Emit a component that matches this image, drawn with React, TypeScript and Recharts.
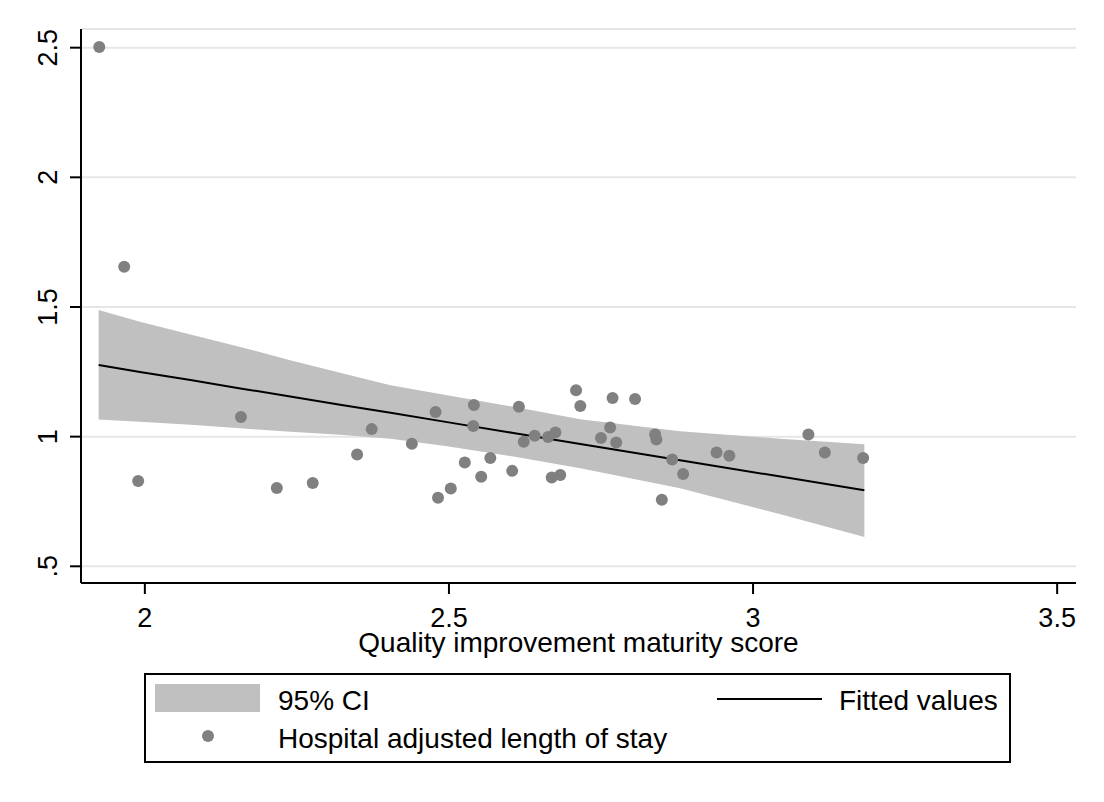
import { ComposedChart, Area, Line, Scatter, XAxis, YAxis, CartesianGrid, Legend } from 'recharts'

// Hospital points (QI maturity score, adjusted LOS)
const scoreX = [
  1.925, 1.966, 1.989, 2.158, 2.217, 2.276, 2.349, 2.373,
  2.439, 2.478, 2.482, 2.503, 2.526, 2.541, 2.54, 2.553, 2.568, 2.604,
  2.615, 2.623, 2.641, 2.663, 2.675, 2.669, 2.683, 2.709, 2.716, 2.75,
  2.765, 2.775, 2.769, 2.806, 2.839, 2.841, 2.867, 2.885, 2.85,
  2.94, 2.961, 3.091, 3.118, 3.181,
]
const losY = [
  2.503, 1.655, 0.829, 1.076, 0.802, 0.821, 0.931, 1.029,
  0.973, 1.095, 0.764, 0.8, 0.9, 1.122, 1.041, 0.845, 0.918, 0.868,
  1.115, 0.98, 1.003, 0.999, 1.016, 0.842, 0.852, 1.179, 1.118, 0.995,
  1.035, 0.977, 1.149, 1.145, 1.008, 0.989, 0.912, 0.856, 0.757,
  0.939, 0.926, 1.008, 0.939, 0.918,
]

// fitted line and 95% CI band, sampled along x
const fitX = [1.924, 1.992, 2.075, 2.157, 2.239, 2.321, 2.404, 2.497, 2.606, 2.716, 2.88, 3.045, 3.183]
const fitY = [1.276, 1.249, 1.218, 1.186, 1.155, 1.123, 1.092, 1.056, 1.014, 0.972, 0.909, 0.846, 0.793]
const ciLow = [1.066, 1.057, 1.046, 1.032, 1.019, 1.007, 0.992, 0.963, 0.923, 0.878, 0.801, 0.701, 0.613]
const ciHigh = [1.488, 1.443, 1.394, 1.346, 1.295, 1.246, 1.198, 1.16, 1.115, 1.067, 1.021, 0.992, 0.971]

const xTicks = [2, 2.5, 3, 3.5]
const xTickLabels = ['2', '2.5', '3', '3.5']
const yTicks = [0.5, 1, 1.5, 2, 2.5]
const yTickLabels = ['.5', '1', '1.5', '2', '2.5']

const seriesNames = ['95% CI', 'Fitted values', 'Hospital adjusted length of stay']

const font = '"Liberation Sans", Arial, sans-serif'
const ciColor = '#c0c0c0'
const dotColor = '#808080'

const fitRows = fitX.map((x, i) => ({ x, fit: fitY[i], band: [ciLow[i], ciHigh[i]] }))
const points = scoreX.map((x, i) => ({ x, y: losY[i] }))

function YTick({ x, y, payload }: any) {
  const i = yTicks.indexOf(payload.value)
  return (
    <text x={x} y={y} transform={`rotate(-90 ${x} ${y})`} textAnchor="middle"
      fontSize={27} fontFamily={font} fill="#000">
      {yTickLabels[i]}
    </text>
  )
}

function StataLegend() {
  return (
    <svg width={867} height={90} style={{ display: 'block' }}>
      <rect x={1} y={1} width={865} height={88} fill="#fff" stroke="#000" strokeWidth={2} />
      <rect x={11} y={11} width={105} height={28} fill={ciColor} />
      <line x1={573} x2={678} y1={26} y2={26} stroke="#000" strokeWidth={2} />
      <circle cx={64} cy={63} r={6} fill={dotColor} />
      <g fontSize={28} fontFamily={font} fill="#000">
        <text x={134} y={37}>{seriesNames[0]}</text>
        <text x={695} y={37}>{seriesNames[1]}</text>
        <text x={134} y={75}>{seriesNames[2]}</text>
      </g>
    </svg>
  )
}

export default function App() {
  return (
    <div style={{ position: 'absolute', left: 0, top: 0, width: 1104, height: 802, background: '#fff' }}>
      <ComposedChart width={1104} height={802} data={fitRows}
        margin={{ top: 29, right: 28, left: 0, bottom: 139 }}>
        <CartesianGrid horizontal vertical={false} stroke="#e6e6e6" strokeWidth={2} />
        <XAxis dataKey="x" type="number" domain={[1.895, 3.531]} ticks={xTicks}
          tickFormatter={(v: number) => xTickLabels[xTicks.indexOf(v)]}
          allowDataOverflow height={80} tickSize={11} tickMargin={14}
          stroke="#000" strokeWidth={2}
          tick={{ fontSize: 27, fontFamily: font, fill: '#000' }}
          label={{ value: 'Quality improvement maturity score', position: 'insideBottom', offset: 11,
            style: { fontSize: 28, fontFamily: font, fill: '#000' } }} />
        <YAxis type="number" domain={[0.4356, 2.572]} ticks={yTicks} allowDataOverflow
          width={81} tickSize={11} tickMargin={13} stroke="#000" strokeWidth={2}
          tick={<YTick />} />
        <Area dataKey="band" type="linear" stroke="none" fill={ciColor} fillOpacity={1}
          isAnimationActive={false} activeDot={false} />
        <Line dataKey="fit" type="linear" stroke="#000" strokeWidth={2} dot={false}
          activeDot={false} isAnimationActive={false} />
        <Scatter data={points} dataKey="y" fill={dotColor} isAnimationActive={false}
          shape={(p: any) => <circle cx={p.cx} cy={p.cy} r={6} fill={dotColor} />} />
        <Legend layout="horizontal" verticalAlign="middle" align="center"
          wrapperStyle={{ left: 144, top: 673, width: 867, height: 90 }}
          content={() => <StataLegend />} />
      </ComposedChart>
    </div>
  )
}
